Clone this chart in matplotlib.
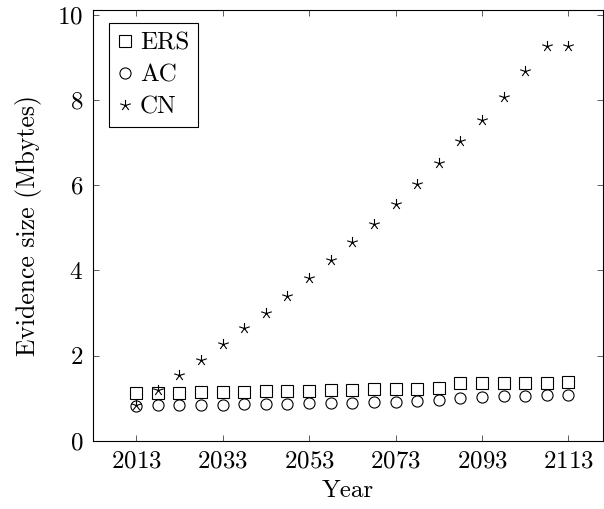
import numpy as np
import matplotlib
matplotlib.use("Agg")
import matplotlib.pyplot as plt
from matplotlib.path import Path

plt.rcParams['font.family'] = ['cmr10', 'DejaVu Serif']
plt.rcParams['axes.formatter.use_mathtext'] = True
plt.rcParams['font.size'] = 18

# Evidence size per scheme, sampled every 5 years
years = list(range(2013, 2114, 5))
ers = [1.12, 1.13, 1.13, 1.14, 1.15, 1.16, 1.17, 1.17, 1.18, 1.19, 1.20,
       1.21, 1.22, 1.23, 1.24, 1.35, 1.36, 1.36, 1.37, 1.37, 1.38]
ac = [0.83, 0.84, 0.84, 0.85, 0.85, 0.86, 0.86, 0.87, 0.88, 0.89, 0.90,
      0.91, 0.92, 0.94, 0.96, 1.02, 1.04, 1.05, 1.06, 1.08, 1.09]
cn = [0.85, 1.20, 1.55, 1.90, 2.27, 2.65, 3.01, 3.41, 3.83, 4.25, 4.66,
      5.09, 5.56, 6.03, 6.52, 7.03, 7.53, 8.08, 8.67, 9.26, 9.26]
xticks = [2013, 2033, 2053, 2073, 2093, 2113]
yticks = [0, 2, 4, 6, 8, 10]

# five-ray star, like the pgfplots "star" mark
ang = np.deg2rad(90 + 72 * np.arange(5))
verts, codes = [], []
for a in ang:
    verts += [(0, 0), (np.cos(a), np.sin(a))]
    codes += [Path.MOVETO, Path.LINETO]
star = Path(verts, codes)

fig = plt.figure(figsize=(6.04, 5.09), dpi=100, facecolor='white')
ax = fig.add_axes([93 / 604, 68 / 509, 510 / 604, 431 / 509])

kw = dict(linestyle='none', color='black', markerfacecolor='none', markeredgewidth=0.8)
ax.plot(years, ers, marker='s', markersize=8, label='ERS', **kw)
ax.plot(years, ac, marker='o', markersize=8, label='AC', **kw)
ax.plot(years, cn, marker=star, markersize=8, label='CN', **kw)

ax.set_xlim(2003, 2121)
ax.set_ylim(0, 10.11)
ax.set_xticks(xticks)
ax.set_yticks(yticks)
ax.tick_params(direction='in', length=4, width=0.6, top=True, right=True,
               color='#444444', pad=7)
for s in ax.spines.values():
    s.set_linewidth(0.8)

ax.set_xlabel("Year", labelpad=5)
ax.set_ylabel("Evidence size (Mbytes)", labelpad=11, fontsize=18.5)

leg = ax.legend(loc='upper left', bbox_to_anchor=(0.031, 0.969), fancybox=False,
                edgecolor='black', framealpha=1, handlelength=0.6,
                handletextpad=0.3, borderpad=0.35, labelspacing=0.38,
                borderaxespad=0)
leg.get_frame().set_linewidth(0.8)

fig.savefig("out.png", dpi=100, facecolor='white')
